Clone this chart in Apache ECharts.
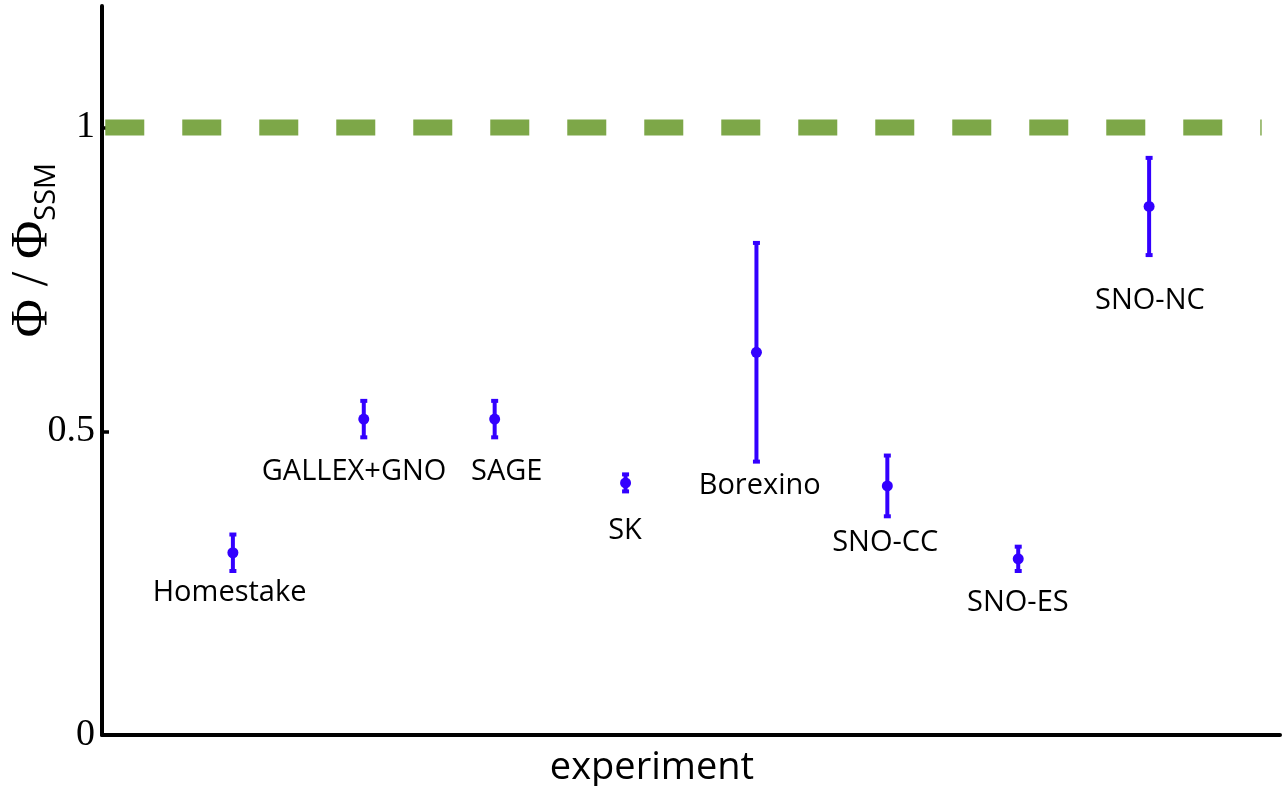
<!DOCTYPE html>
<html>
<head>
<meta charset="utf-8">
<script src="https://cdn.jsdelivr.net/npm/echarts@6/dist/echarts.min.js"></script>
<style>
  html, body { margin: 0; padding: 0; background: #ffffff; }
  #chart { width: 1282px; height: 786px; }
</style>
</head>
<body>
<div id="chart"></div>
<script>
// Measured solar-neutrino flux relative to the Standard Solar Model
const experiments = ['Homestake', 'GALLEX+GNO', 'SAGE', 'SK', 'Borexino', 'SNO-CC', 'SNO-ES', 'SNO-NC'];
const positions = [1, 2, 3, 4, 5, 6, 7, 8];
const ratio = [0.30, 0.52, 0.52, 0.415, 0.63, 0.41, 0.29, 0.87];
const errors = [0.03, 0.03, 0.03, 0.014, 0.18, 0.05, 0.02, 0.08];
// anchor of each experiment's name, in data units
const labelX = [0.975, 1.926, 3.092, 3.996, 5.025, 5.984, 6.997, 8.006];
const labelY = [0.234, 0.433, 0.434, 0.336, 0.410, 0.317, 0.218, 0.715];
const yTicks = [0, 0.5, 1];
// SSM expectation (ratio = 1)
const ssmLine = [[0.025, 1], [8.86, 1]];

const POINT_COLOR = '#3300ff';
const SSM_COLOR = '#7da748';
const LABEL_FONT = '29px "Open Sans", sans-serif';

const chart = echarts.init(document.getElementById('chart'));

const errorData = positions.map((p, i) => [p, ratio[i], errors[i]]);
const pointData = positions.map((p, i) => [p, ratio[i]]);
const nameData = labelX.map((x, i) => [x, labelY[i]]);

chart.setOption({
  animation: false,
  backgroundColor: '#ffffff',
  grid: { left: 102, right: 2, top: 6, bottom: 51, containLabel: false, outerBoundsMode: 'none' },
  xAxis: {
    type: 'value', min: 0, max: 9,
    axisLine: { show: true, onZero: false, lineStyle: { color: '#000', width: 4 } },
    axisTick: { show: false },
    axisLabel: { show: false },
    splitLine: { show: false }
  },
  yAxis: {
    type: 'value', min: 0, max: 1.2,
    axisLine: { show: true, onZero: false, lineStyle: { color: '#000', width: 4 } },
    axisTick: { show: true, inside: true, length: 7, customValues: yTicks, lineStyle: { color: '#000', width: 3.5 } },
    axisLabel: {
      show: true, customValues: yTicks, margin: 7,
      color: '#000', fontFamily: '"Liberation Serif", serif', fontSize: 38,
      formatter: v => String(v)
    },
    splitLine: { show: false }
  },
  graphic: [
    {
      type: 'text', x: 33, y: 250, rotation: Math.PI / 2,
      style: {
        text: '{phi|Φ / Φ}{sub|SSM}',
        align: 'center', verticalAlign: 'middle', fill: '#000',
        rich: {
          phi: { fontFamily: '"Liberation Serif", serif', fontSize: 52, lineHeight: 56, fill: '#000' },
          sub: { fontFamily: '"Open Sans", sans-serif', fontSize: 29, lineHeight: 40, verticalAlign: 'bottom', fill: '#000' }
        }
      }
    },
    {
      type: 'text', x: 652, y: 768,
      style: {
        text: 'experiment', font: '38px "Open Sans", sans-serif',
        align: 'center', verticalAlign: 'middle', fill: '#000'
      }
    }
  ],
  series: [
    {
      type: 'line', data: ssmLine, symbol: 'none', silent: true, z: 1,
      lineStyle: { color: SSM_COLOR, width: 16, type: [39, 38], cap: 'butt' }
    },
    {
      type: 'custom', data: errorData, silent: true, z: 2,
      renderItem: (params, api) => {
        const x = api.value(0), y = api.value(1), e = api.value(2);
        const top = api.coord([x, y + e]);
        const bot = api.coord([x, y - e]);
        const st = { stroke: POINT_COLOR, lineWidth: 4 };
        return {
          type: 'group',
          children: [
            { type: 'line', shape: { x1: top[0], y1: top[1], x2: bot[0], y2: bot[1] }, style: st },
            { type: 'line', shape: { x1: top[0] - 3.5, y1: top[1], x2: top[0] + 3.5, y2: top[1] }, style: st },
            { type: 'line', shape: { x1: bot[0] - 3.5, y1: bot[1], x2: bot[0] + 3.5, y2: bot[1] }, style: st }
          ]
        };
      }
    },
    {
      type: 'scatter', data: pointData, symbol: 'circle', symbolSize: 11, z: 3,
      itemStyle: { color: POINT_COLOR, opacity: 1 }
    },
    {
      type: 'custom', data: nameData, silent: true, z: 4,
      renderItem: (params, api) => {
        const pt = api.coord([api.value(0), api.value(1)]);
        return {
          type: 'text', x: pt[0], y: pt[1],
          style: {
            text: experiments[params.dataIndex], font: LABEL_FONT,
            fill: '#000', align: 'center', verticalAlign: 'middle'
          }
        };
      }
    }
  ]
});
</script>
</body>
</html>
